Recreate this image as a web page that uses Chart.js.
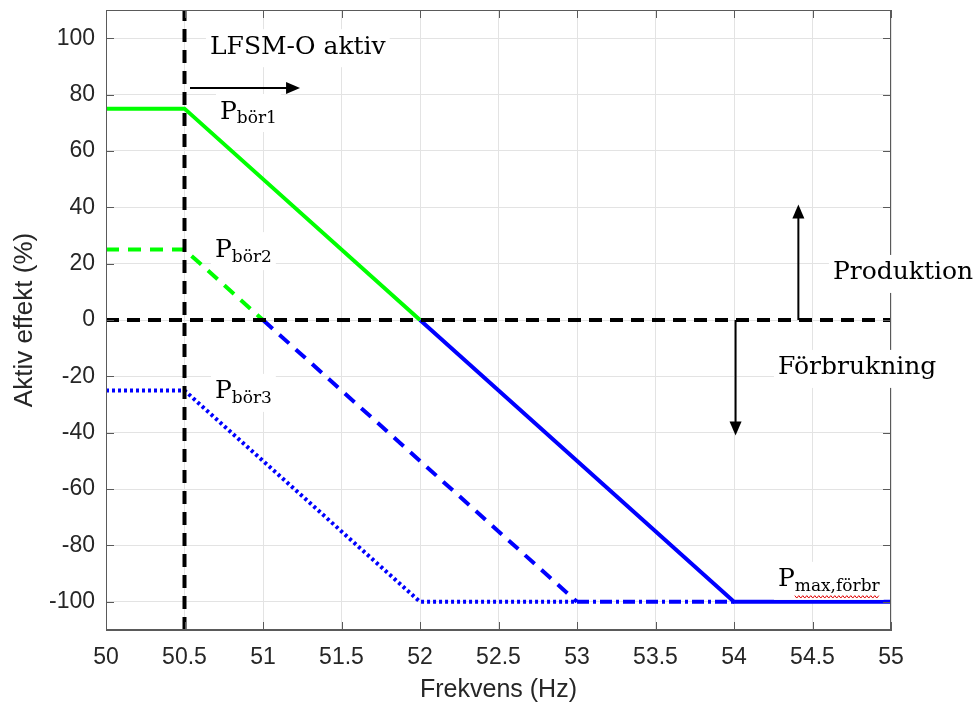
<!DOCTYPE html>
<html>
<head>
<meta charset="utf-8">
<script src="https://cdn.jsdelivr.net/npm/chart.js@4.4.1/dist/chart.umd.min.js"></script>
<style>
  html, body { margin: 0; padding: 0; background: #fff; }
</style>
</head>
<body>
<canvas id="c" width="979" height="707"></canvas>
<script>
// --- data ---
const xTicks = [50, 50.5, 51, 51.5, 52, 52.5, 53, 53.5, 54, 54.5, 55];
const yTicks = [-100, -80, -60, -40, -20, 0, 20, 40, 60, 80, 100];

const fGreenSolid = [50, 50.5, 52];      const pGreenSolid = [75, 75, 0];
const fBlueSolid  = [52, 54, 55];        const pBlueSolid  = [0, -100, -100];
const fGreenDash  = [50, 50.5, 51];      const pGreenDash  = [25, 25, 0];
const fBlueDash   = [51, 53];            const pBlueDash   = [0, -100];
const fBlueDashDot = [53, 54];           const pBlueDashDot = [-100, -100];
const fBlueDot    = [50, 50.5, 52, 53];  const pBlueDot    = [-25, -25, -100, -100];
const fLfsm = [50.5, 50.5];              const pLfsm = [-110, 110];
const fZero = [50, 55];                  const pZero = [0, 0];

const zip = (xs, ys) => xs.map((x, i) => ({ x, y: ys[i] }));

// annotations, in data coordinates
const notes = [
  { x: 50.662, y: 96.8, text: 'LFSM-O aktiv' },
  { x: 50.726, y: 73.8, text: 'P', sub: 'bör1' },
  { x: 50.694, y: 24.8, text: 'P', sub: 'bör2' },
  { x: 50.694, y: -25.5, text: 'P', sub: 'bör3' },
  { x: 54.28, y: -92.2, text: 'P', sub: 'max,förbr', wavy: true },
  { x: 54.63, y: 16.7, text: 'Produktion' },
  { x: 54.28, y: -17, text: 'Förbrukning' },
];
const arrows = [
  { x1: 50.535, y1: 82.3, x2: 51.236, y2: 82.3 },
  { x1: 54.41, y1: 0, x2: 54.41, y2: 41 },
  { x1: 54.01, y1: 0, x2: 54.01, y2: -41 },
];

const SERIF = '"DejaVu Serif", "Liberation Serif", serif';
const SANS = '"Liberation Sans", Arial, sans-serif';
const AXIS_COL = '#5a5a5a';

function line(label, xs, ys, color, dash, width) {
  return {
    label, data: zip(xs, ys), borderColor: color, backgroundColor: color,
    borderWidth: width || 4, borderDash: dash || [], pointRadius: 0,
    tension: 0, fill: false, borderCapStyle: 'butt',
  };
}

function arrowHead(ctx, x1, y1, x2, y2) {
  const a = Math.atan2(y2 - y1, x2 - x1), L = 14, W = 6;
  ctx.beginPath();
  ctx.moveTo(x2, y2);
  ctx.lineTo(x2 - L * Math.cos(a) + W * Math.sin(a), y2 - L * Math.sin(a) - W * Math.cos(a));
  ctx.lineTo(x2 - L * Math.cos(a) - W * Math.sin(a), y2 - L * Math.sin(a) + W * Math.cos(a));
  ctx.closePath();
  ctx.fill();
}

const overlay = {
  id: 'overlay',
  afterDatasetsDraw(chart) {
    const { ctx, chartArea: a, scales: { x, y } } = chart;
    ctx.save();
    // box + inward ticks (MATLAB style)
    ctx.strokeStyle = AXIS_COL;
    ctx.lineWidth = 1;
    ctx.strokeRect(a.left + 0.5, a.top + 0.5, a.right - a.left - 1, a.bottom - a.top - 1);
    ctx.beginPath();
    xTicks.forEach(v => {
      const px = Math.round(x.getPixelForValue(v)) + 0.5;
      ctx.moveTo(px, a.bottom); ctx.lineTo(px, a.bottom - 8);
      ctx.moveTo(px, a.top); ctx.lineTo(px, a.top + 8);
    });
    yTicks.forEach(v => {
      const py = Math.round(y.getPixelForValue(v)) + 0.5;
      ctx.moveTo(a.left, py); ctx.lineTo(a.left + 8, py);
      ctx.moveTo(a.right, py); ctx.lineTo(a.right - 8, py);
    });
    ctx.stroke();

    // arrows
    ctx.strokeStyle = '#000';
    ctx.fillStyle = '#000';
    ctx.lineWidth = 2;
    arrows.forEach(ar => {
      const x1 = x.getPixelForValue(ar.x1), y1 = y.getPixelForValue(ar.y1);
      const x2 = x.getPixelForValue(ar.x2), y2 = y.getPixelForValue(ar.y2);
      const a2 = Math.atan2(y2 - y1, x2 - x1);
      ctx.beginPath();
      ctx.moveTo(x1, y1);
      ctx.lineTo(x2 - 10 * Math.cos(a2), y2 - 10 * Math.sin(a2));
      ctx.stroke();
      arrowHead(ctx, x1, y1, x2, y2);
    });

    // text labels on white boxes
    ctx.textBaseline = 'middle';
    ctx.textAlign = 'left';
    notes.forEach(n => {
      const px = x.getPixelForValue(n.x), py = y.getPixelForValue(n.y);
      ctx.font = `25px ${SERIF}`;
      const w1 = ctx.measureText(n.text).width;
      let w2 = 0;
      if (n.sub) { ctx.font = `17px ${SERIF}`; w2 = ctx.measureText(n.sub).width; }
      ctx.fillStyle = '#fff';
      ctx.fillRect(px - 4, py - 18, w1 + w2 + 8, 38);
      ctx.fillStyle = '#000';
      ctx.font = `25px ${SERIF}`;
      ctx.fillText(n.text, px, py);
      if (n.sub) {
        ctx.font = `17px ${SERIF}`;
        ctx.fillText(n.sub, px + w1, py + 7);
        if (n.wavy) {
          ctx.strokeStyle = '#e00000';
          ctx.lineWidth = 1;
          ctx.beginPath();
          const sx = px + w1, ey = py + 17;
          for (let i = 0; i <= w2; i += 2) {
            const yy = ey + ((i / 2) % 2 ? 1.2 : -1.2);
            i === 0 ? ctx.moveTo(sx + i, yy) : ctx.lineTo(sx + i, yy);
          }
          ctx.stroke();
        }
      }
    });
    ctx.restore();
  }
};

new Chart(document.getElementById('c'), {
  type: 'line',
  data: {
    datasets: [
      line('LFSM-O', fLfsm, pLfsm, '#000', [13, 8]),
      line('Noll', fZero, pZero, '#000', [13, 8]),
      line('Pbör1', fGreenSolid, pGreenSolid, '#00ff00'),
      line('Pbör1 förbr', fBlueSolid, pBlueSolid, '#0000ff'),
      line('Pbör2', fGreenDash, pGreenDash, '#00ff00', [13, 9]),
      line('Pbör2 förbr', fBlueDash, pBlueDash, '#0000ff', [13, 9]),
      line('Pbör2 max', fBlueDashDot, pBlueDashDot, '#0000ff', [12, 4, 3, 4]),
      line('Pbör3', fBlueDot, pBlueDot, '#0000ff', [3, 3]),
    ]
  },
  options: {
    responsive: false,
    animation: false,
    devicePixelRatio: 1,
    layout: { padding: { left: 0, right: 88, top: 10, bottom: 0 } },
    plugins: { legend: { display: false }, tooltip: { enabled: false } },
    scales: {
      x: {
        type: 'linear', min: 50, max: 55,
        afterBuildTicks: s => { s.ticks = xTicks.map(v => ({ value: v })); },
        afterFit: s => { s.height = 77; s.paddingLeft = 0; s.paddingRight = 0; },
        grid: { color: '#e3e3e3', drawTicks: false },
        border: { display: true, color: AXIS_COL },
        ticks: {
          autoSkip: false, maxRotation: 0, padding: 14, color: '#262626',
          font: { family: SANS, size: 23 },
          callback: v => String(v),
        },
        title: {
          display: true, text: 'Frekvens (Hz)', color: '#262626',
          font: { family: SANS, size: 25 },
          padding: { top: 0, bottom: 2 },
        },
      },
      y: {
        type: 'linear', min: -110, max: 110,
        afterBuildTicks: s => { s.ticks = yTicks.map(v => ({ value: v })); },
        afterFit: s => { s.width = 106; s.paddingTop = 0; s.paddingBottom = 0; },
        grid: { color: '#e3e3e3', drawTicks: false },
        border: { display: true, color: AXIS_COL },
        ticks: {
          padding: 11, color: '#262626',
          font: { family: SANS, size: 23 },
          callback: v => String(v),
        },
        title: {
          display: true, text: 'Aktiv effekt (%)', color: '#262626',
          font: { family: SANS, size: 26 },
          padding: { top: 9, bottom: 0 },
        },
      },
    },
  },
  plugins: [overlay],
});
</script>
</body>
</html>
